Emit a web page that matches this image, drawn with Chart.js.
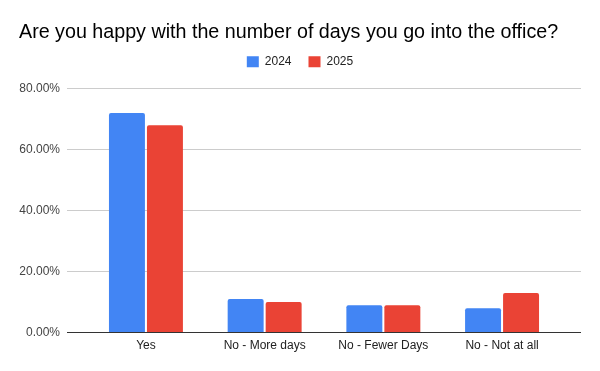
<!DOCTYPE html>
<html>
<head>
<meta charset="utf-8">
<script src="https://cdn.jsdelivr.net/npm/chart.js@4"></script>
<style>
  html, body { margin: 0; padding: 0; background: #fff; }
  #wrap { width: 600px; height: 371px; }
</style>
</head>
<body>
<div id="wrap"><canvas id="grafico"></canvas></div>
<script>
//Dados
const categorias = ['Yes', 'No - More days', 'No - Fewer Days', 'No - Not at all']
const valores2024 = [72, 11, 9, 8]
const valores2025 = [68, 10, 9, 13]
const ticksY = [0, 20, 40, 60, 80]

const azul = '#4285F4'
const vermelho = '#EA4335'
const fonte = "'Liberation Sans', Arial, sans-serif"

const pontos = (arr) => categorias.map((cat, i) => ({ x: i, y: arr[i] }))

//Espaco extra abaixo da legenda
const legendaEspaco = {
    id: 'legendaEspaco',
    beforeInit(chart) {
        const fitOriginal = chart.legend.fit
        chart.legend.fit = function () {
            fitOriginal.bind(chart.legend)()
            this.height += 11
        }
    }
}

new Chart(document.getElementById('grafico'), {
    type: 'bar',
    data: {
        datasets: [{
            label: '2024',
            data: pontos(valores2024),
            backgroundColor: azul,
            borderRadius: { topLeft: 2, topRight: 2 },
            borderSkipped: 'bottom',
            categoryPercentage: 0.64,
            barPercentage: 0.947
        }, {
            label: '2025',
            data: pontos(valores2025),
            backgroundColor: vermelho,
            borderRadius: { topLeft: 2, topRight: 2 },
            borderSkipped: 'bottom',
            categoryPercentage: 0.64,
            barPercentage: 0.947
        }]
    },
    plugins: [legendaEspaco],
    options: {
        responsive: true,
        maintainAspectRatio: false,
        animation: false,
        layout: { padding: { left: 19, right: 19, top: 21, bottom: 12 } },
        plugins: {
            title: {
                display: true,
                text: 'Are you happy with the number of days you go into the office?',
                align: 'start',
                color: '#000',
                font: { family: fonte, size: 19.7, weight: 'normal' },
                padding: { top: 0, bottom: -6 }
            },
            legend: {
                position: 'top',
                labels: {
                    boxWidth: 12,
                    boxHeight: 11,
                    color: '#222',
                    font: { family: fonte, size: 12 },
                    padding: 17
                }
            },
            tooltip: { enabled: false }
        },
        scales: {
            x: {
                type: 'linear',
                offset: false,
                min: -0.665,
                max: 3.665,
                grid: { display: false, drawTicks: false, offset: false },
                border: { display: false },
                ticks: {
                    stepSize: 1,
                    includeBounds: false,
                    autoSkip: false,
                    maxRotation: 0,
                    padding: 6,
                    color: '#222',
                    font: { family: fonte, size: 12 },
                    callback: (v) => categorias[v] ?? ''
                }
            },
            y: {
                min: 0,
                max: 80,
                border: { display: false },
                grid: {
                    drawTicks: false,
                    color: (ctx) => ctx.tick && ctx.tick.value === 0 ? '#333' : '#ccc'
                },
                afterBuildTicks: (scale) => {
                    scale.ticks = ticksY.map(v => ({ value: v }))
                },
                afterFit: (scale) => {
                    scale.width = 48
                },
                ticks: {
                    padding: 7,
                    color: '#444',
                    font: { family: fonte, size: 12 },
                    callback: (v) => v.toFixed(2) + '%'
                }
            }
        }
    }
})
</script>
</body>
</html>
